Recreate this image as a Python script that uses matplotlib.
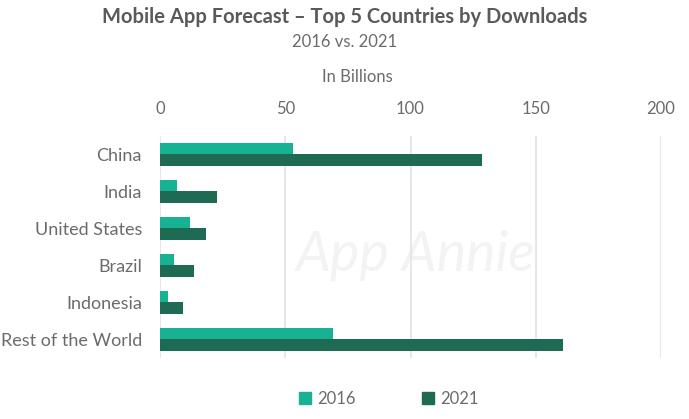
import matplotlib.pyplot as plt
import numpy as np
from matplotlib.patches import Patch

# data (billions of downloads)
countries = ["China", "India", "United States", "Brazil", "Indonesia", "Rest of the World"]
downloads_2016 = [53, 6.7, 12, 5.7, 3.3, 69]
downloads_2021 = [128.4, 22.6, 18.4, 13.7, 9.3, 161]
x_ticks = [0, 50, 100, 150, 200]

color_2016 = "#17b294"
color_2021 = "#1e6a53"
text_color = "#6b6b6b"

plt.rcParams['font.family'] = ['Lato', 'DejaVu Sans']

fig = plt.figure(figsize=(6.89, 4.19), dpi=100)
ax = fig.add_axes([160/689, 1 - 358/419, 501/689, 222/419])

y = np.arange(len(countries))
h = 0.32
ax.barh(y - h/2, downloads_2016, height=h, color=color_2016, zorder=3)
ax.barh(y + h/2, downloads_2021, height=h, color=color_2021, zorder=3)

ax.set_xlim(0, 200)
ax.set_ylim(len(countries) - 0.5, -0.5)
ax.set_xticks(x_ticks)
ax.set_yticks(y)
ax.set_yticklabels(countries, fontsize=13, color=text_color)
ax.xaxis.tick_top()
ax.tick_params(axis='x', length=0, labelsize=12, labelcolor=text_color, pad=14)
ax.tick_params(axis='y', length=0, pad=13)
ax.grid(axis='x', color='#e3e3e3', linewidth=1.2, zorder=0)
for s in ax.spines.values():
    s.set_visible(False)

# faint watermark
ax.text(0.51, 0.46, "App Annie", transform=ax.transAxes, fontsize=40, style='italic',
        color='#f3f3f3', ha='center', va='center', zorder=1)

fig.text(0.5, 1 - 17/419, "Mobile App Forecast \u2013 Top 5 Countries by Downloads",
         ha='center', va='center', fontsize=14.5, fontweight='bold', color='#5a5a5a')
fig.text(0.5, 1 - 42/419, "2016 vs. 2021", ha='center', va='center', fontsize=12, color=text_color)
fig.text(357/689, 1 - 77/419, "In Billions", ha='center', va='center', fontsize=12, color=text_color)

handles = [Patch(color=color_2016, label="2016"), Patch(color=color_2021, label="2021")]
fig.legend(handles=handles, loc='center', bbox_to_anchor=(389/689, 1 - 399/419), ncol=2,
           frameon=False, fontsize=12, labelcolor=text_color, handlelength=0.7,
           handleheight=0.7, handletextpad=0.4, columnspacing=4)

fig.savefig("out.png", dpi=100)
